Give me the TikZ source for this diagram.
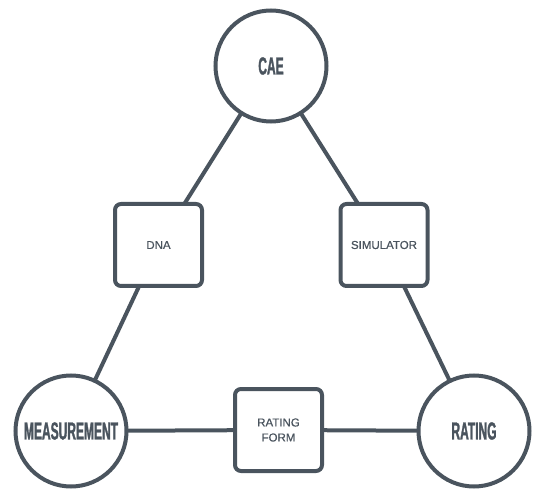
\documentclass[tikz,border=0pt]{standalone}
\usepackage{fontspec}
\setmainfont{Liberation Sans}
\newfontfamily\hubfont[FakeStretch=0.49,FakeBold=1.2]{Liberation Sans}
\newfontfamily\linkfont[FakeBold=0.6]{Liberation Sans}
\definecolor{slate}{RGB}{74,84,94}
\tikzset{
  hub/.style={circle, draw=slate, line width=4pt, fill=white, minimum size=111pt,
    inner sep=0pt, text=slate, font=\hubfont\bfseries\fontsize{24.5}{24.5}\selectfont},
  link/.style={rectangle, rounded corners=6pt, draw=slate, line width=4pt, fill=white,
    minimum width=87pt, minimum height=82pt, inner sep=0pt, align=center, text=slate,
    font=\linkfont\fontsize{11.5}{15}\selectfont},
  wire/.style={draw=slate, line width=4pt}
}
\begin{document}
\begin{tikzpicture}[x=1pt,y=1pt]
\useasboundingbox (0,0) rectangle (533,488);
% edges first, nodes drawn on top
\coordinate (pcae) at (271,422);
\coordinate (pmeas) at (71,57);
\coordinate (prat) at (474,57);
\coordinate (pdna) at (158.5,243);
\coordinate (psim) at (384,243);
\coordinate (pform) at (278.5,58);
\draw[wire] (pcae) -- (pdna) -- (pmeas) -- (pform) -- (prat) -- (psim) -- (pcae);
\node[hub] (cae) at (pcae) {CAE};
\node[hub] (meas) at (pmeas) {MEASUREMENT};
\node[hub] (rat) at (prat) {RATING};
\node[link] (dna) at (pdna) {DNA};
\node[link] (sim) at (psim) {SIMULATOR};
\node[link] (form) at (pform) {RATING\\FORM};
\end{tikzpicture}
\end{document}
